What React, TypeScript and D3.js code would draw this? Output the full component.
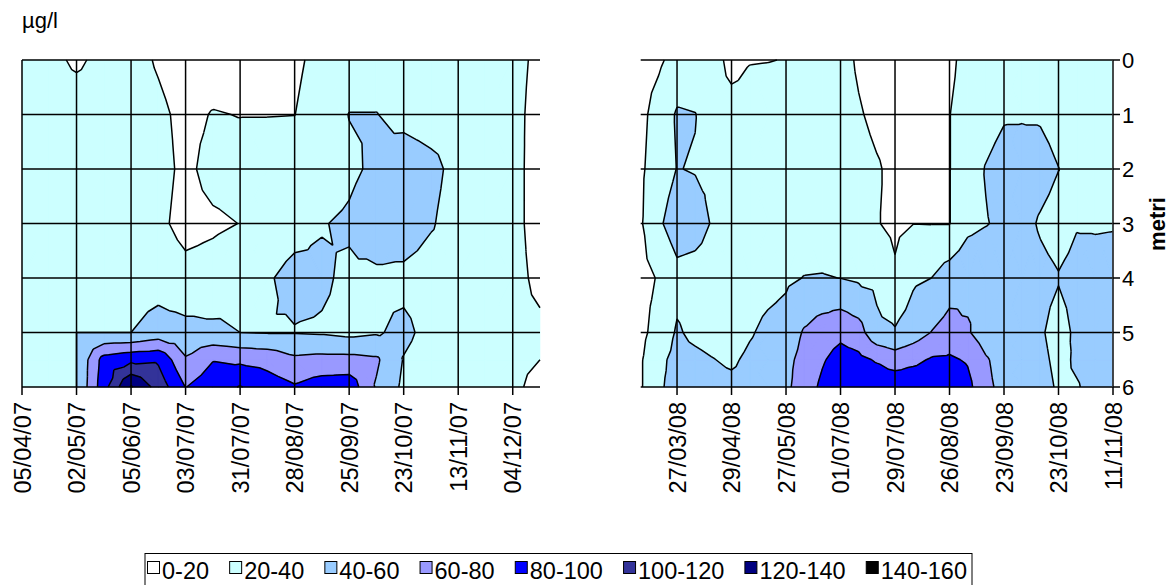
import React, { useEffect, useRef } from 'react';
import * as d3 from 'd3';

const WIDTH = 1170;
const HEIGHT = 585;

// depth of each grid row (metres)
const depths = [0, 1, 2, 3, 4, 5, 5.5, 6];
const depthTicks = [0, 1, 2, 3, 4, 5, 6];

// 2007 campaign: one column per sampling, only every second one labelled
const samples2007 = [
  '05/04/07', '', '02/05/07', '', '05/06/07', '', '03/07/07', '', '31/07/07', '',
  '28/08/07', '', '25/09/07', '', '23/10/07', '', '13/11/07', '', '04/12/07', ''
];

// µg/l, rows = depths, columns = samples2007
const conc2007 = [
  [28, 25, 17, 25, 27, 18, 10, 10, 10, 12, 17, 25, 28, 30, 30, 30, 30, 30, 28, 14],
  [30, 30, 30, 30, 30, 24, 15, 21, 19.5, 19.5, 19.8, 28, 40.5, 40.5, 34, 30, 30, 30, 28, 10],
  [30, 30, 30, 30, 30, 26, 16, 26, 28, 30, 30, 30, 36, 44, 52, 46, 33, 30, 28, 9],
  [30, 30, 30, 30, 30, 24, 14, 17, 20.3, 28, 33, 39, 43, 52, 54, 42, 30, 30, 28, 9],
  [30, 30, 30, 30, 30, 32, 26, 28, 33, 38, 46, 43, 36, 36, 34, 30, 30, 30, 28, 14],
  [30, 30, 40, 40, 40, 48, 46, 44, 40, 39, 39, 38, 35, 38, 45, 33, 30, 30, 28, 25],
  [30, 30, 40, 88, 95, 97, 62, 79, 76, 73, 64, 66, 66, 63, 39, 30, 30, 30, 28, 20],
  [30, 30, 40, 92, 142, 112, 79.5, 92, 101, 90, 82, 90, 92, 58, 36, 30, 30, 30, 28, 8]
];

// 2008 campaign: labels every third sampling
const samples2008 = [
  '', '', '27/03/08', '', '', '29/04/08', '', '', '27/05/08', '', '', '01/07/08', '', '',
  '29/07/08', '', '', '26/08/08', '', '', '23/09/08', '', '', '23/10/08', '', '', '11/11/08'
];

const conc2008 = [
  [12, 17, 27, 28, 30, 12, 19, 19.5, 20.5, 28, 30, 28, 17, 10, 10, 10, 12, 15, 28, 30, 30, 30, 30, 30, 30, 30, 30],
  [15, 28, 42, 40.5, 30, 30, 30, 30, 30, 30, 30, 30, 22, 15, 12, 12, 14, 19.5, 30, 32, 38, 38, 38, 33, 30, 30, 30],
  [17, 30, 40.5, 39, 36, 30, 30, 30, 30, 30, 30, 30, 28, 22, 15, 14, 15, 19.5, 30, 41, 48, 50, 47, 40.3, 32, 30, 30],
  [18, 37, 50, 48, 38, 30, 30, 30, 30, 30, 30, 28, 26, 21, 16, 19.8, 19.6, 19.5, 35, 39, 44, 46, 38, 33, 39, 39, 39.3],
  [14, 21.5, 34, 32, 30, 30, 30, 33, 37, 40.5, 41, 39.8, 37, 35, 23, 37, 40, 50, 55, 57, 58, 50, 45, 41, 45, 44, 44],
  [15, 28, 42, 36, 33, 30, 38, 45, 48, 62, 70, 75, 68, 45, 42, 50, 60.5, 68, 62, 50, 45, 44, 42, 34, 43, 44, 44],
  [18, 36, 45, 44, 40.5, 37, 44, 48, 55, 66, 78, 88, 85, 78, 70, 75, 82, 83, 78, 62, 52, 46, 44, 36, 42, 44, 44],
  [18, 38, 45, 46, 46, 45, 46, 50, 56, 70, 84, 95, 96, 94, 95, 95, 96, 96, 86, 64, 55, 48, 46, 38, 39, 44, 44]
];

const thresholds = [0, 20, 40, 60, 80, 100, 120, 140, 160];
const bandColors = ['#FFFFFF', '#CCFFFF', '#99CCFF', '#9999FF', '#0000FF', '#333399', '#000080', '#000000'];
const bandLabels = ['0-20', '20-40', '40-60', '60-80', '80-100', '100-120', '120-140', '140-160'];

const FONT = '"Liberation Sans", Arial, sans-serif';

type Pt = { x: number; y: number; v: number };

const cut = (a: Pt, b: Pt, level: number): Pt => {
  const t = (level - a.v) / (b.v - a.v);
  return { x: a.x + t * (b.x - a.x), y: a.y + t * (b.y - a.y), v: level };
};

// keep the part of a polygon above (or below) a level
const clipPoly = (poly: Pt[], level: number, above: boolean): Pt[] => {
  const out: Pt[] = [];
  const inside = (p: Pt) => (above ? p.v >= level : p.v < level);
  for (let i = 0; i < poly.length; i++) {
    const a = poly[i];
    const b = poly[(i + 1) % poly.length];
    const ia = inside(a);
    const ib = inside(b);
    if (ia) out.push(a);
    if (ia !== ib) out.push(cut(a, b, level));
  }
  return out;
};

const fmt = (p: Pt) => `${p.x.toFixed(2)},${p.y.toFixed(2)}`;

const App: React.FC = () => {
  const svgRef = useRef<SVGSVGElement>(null);

  useEffect(() => {
    if (!svgRef.current) return;
    const svg = d3.select(svgRef.current);
    svg.selectAll('*').remove();

    const y = d3.scaleLinear().domain([0, 6]).range([60, 387]);

    const drawPanel = (samples: string[], grid: number[][], range: [number, number], rightAxis: boolean) => {
      const x = d3.scaleLinear().domain([0, samples.length - 1]).range(range);
      const g = svg.append('g');

      const bandPaths: string[][] = bandColors.map(() => []);
      const lines: string[] = [];
      const node = (i: number, j: number): Pt => ({ x: x(i), y: y(depths[j]), v: grid[j][i] });

      // each cell split in four triangles around its mean value
      for (let j = 0; j < depths.length - 1; j++) {
        for (let i = 0; i < samples.length - 1; i++) {
          const tl = node(i, j), tr = node(i + 1, j), bl = node(i, j + 1), br = node(i + 1, j + 1);
          const c: Pt = { x: (tl.x + tr.x) / 2, y: (tl.y + bl.y) / 2, v: (tl.v + tr.v + bl.v + br.v) / 4 };
          const tris = [[tl, tr, c], [tr, br, c], [br, bl, c], [bl, tl, c]];
          tris.forEach(tri => {
            for (let b = 0; b < bandColors.length; b++) {
              let p = b > 0 ? clipPoly(tri, thresholds[b], true) : tri;
              if (b < bandColors.length - 1) p = clipPoly(p, thresholds[b + 1], false);
              if (p.length >= 3) bandPaths[b].push('M' + p.map(fmt).join('L') + 'Z');
            }
            thresholds.slice(1, -1).forEach(level => {
              const pts: Pt[] = [];
              for (let e = 0; e < 3; e++) {
                const a = tri[e], bb = tri[(e + 1) % 3];
                if ((a.v >= level) !== (bb.v >= level)) pts.push(cut(a, bb, level));
              }
              if (pts.length === 2) lines.push(`M${fmt(pts[0])}L${fmt(pts[1])}`);
            });
          });
        }
      }

      bandPaths.forEach((d, b) => {
        if (!d.length) return;
        g.append('path')
          .attr('d', d.join(''))
          .attr('fill', bandColors[b])
          .attr('stroke', bandColors[b])
          .attr('stroke-width', 0.6);
      });

      // gridlines
      g.selectAll('.hgrid')
        .data(depthTicks)
        .enter().append('line')
        .attr('x1', range[0])
        .attr('x2', range[1])
        .attr('y1', d => y(d))
        .attr('y2', d => y(d))
        .attr('stroke', '#000')
        .attr('stroke-width', 1.5);

      const labelled = samples.map((s, i) => ({ s, i })).filter(d => d.s !== '');

      g.selectAll('.vgrid')
        .data(labelled)
        .enter().append('line')
        .attr('x1', d => x(d.i))
        .attr('x2', d => x(d.i))
        .attr('y1', y(0))
        .attr('y2', y(6) + 8)
        .attr('stroke', '#000')
        .attr('stroke-width', 1.5);

      // contour lines
      g.append('path')
        .attr('d', lines.join(''))
        .attr('fill', 'none')
        .attr('stroke', '#000')
        .attr('stroke-width', 1.5)
        .attr('stroke-linejoin', 'round');

      g.selectAll('.xlabel')
        .data(labelled)
        .enter().append('text')
        .attr('transform', d => `translate(${x(d.i) + 8.5},402) rotate(-90)`)
        .attr('text-anchor', 'end')
        .style('font-family', FONT)
        .style('font-size', '23.5px')
        .style('fill', '#000')
        .text(d => d.s);

      if (rightAxis) {
        g.append('line')
          .attr('x1', range[1])
          .attr('x2', range[1])
          .attr('y1', y(0))
          .attr('y2', y(6))
          .attr('stroke', '#555')
          .attr('stroke-width', 1);

        g.selectAll('.ytick')
          .data(depthTicks)
          .enter().append('line')
          .attr('x1', range[1])
          .attr('x2', range[1] + 7)
          .attr('y1', d => y(d))
          .attr('y2', d => y(d))
          .attr('stroke', '#000')
          .attr('stroke-width', 1.5);

        g.selectAll('.ylabel')
          .data(depthTicks)
          .enter().append('text')
          .attr('x', range[1] + 9)
          .attr('y', d => y(d) + 8)
          .style('font-family', FONT)
          .style('font-size', '22px')
          .style('fill', '#000')
          .text(d => d);

        g.append('text')
          .attr('transform', 'translate(1165,224) rotate(-90)')
          .attr('text-anchor', 'middle')
          .style('font-family', FONT)
          .style('font-size', '22px')
          .style('font-weight', 'bold')
          .style('fill', '#000')
          .text('metri');
      }
    };

    drawPanel(samples2007, conc2007, [22, 540], false);
    drawPanel(samples2008, conc2008, [640.7, 1113], true);

    // unit
    svg.append('text')
      .attr('x', 22)
      .attr('y', 28)
      .style('font-family', FONT)
      .style('font-size', '22px')
      .style('fill', '#000')
      .text('µg/l');

    // legend
    const legend = svg.append('g');
    legend.append('rect')
      .attr('x', 145)
      .attr('y', 553.5)
      .attr('width', 827)
      .attr('height', 45)
      .attr('fill', '#fff')
      .attr('stroke', '#000')
      .attr('stroke-width', 1);

    const texts = bandLabels.map(lbl => legend.append('text')
      .attr('y', 579)
      .style('font-family', FONT)
      .style('font-size', '23.5px')
      .style('fill', '#000')
      .text(lbl));
    const lens = texts.map(t => (t.node() as SVGTextElement).getComputedTextLength());
    const startX = 147.5;
    const endX = 967;
    const marker = 12;
    const gapIn = 2.5;
    const used = lens.reduce((s, l) => s + l, 0) + bandLabels.length * (marker + gapIn);
    const gapOut = (endX - startX - used) / (bandLabels.length - 1);
    let cx = startX;
    bandLabels.forEach((_, i) => {
      legend.append('rect')
        .attr('x', cx)
        .attr('y', 561.5)
        .attr('width', marker)
        .attr('height', marker)
        .attr('fill', bandColors[i])
        .attr('stroke', '#000')
        .attr('stroke-width', 1);
      texts[i].attr('x', cx + marker + gapIn);
      cx += marker + gapIn + lens[i] + gapOut;
    });
  }, []);

  return (
    <svg
      ref={svgRef}
      width={WIDTH}
      height={HEIGHT}
      style={{ position: 'absolute', left: 0, top: 0, background: '#fff' }}
    />
  );
};

export default App;
